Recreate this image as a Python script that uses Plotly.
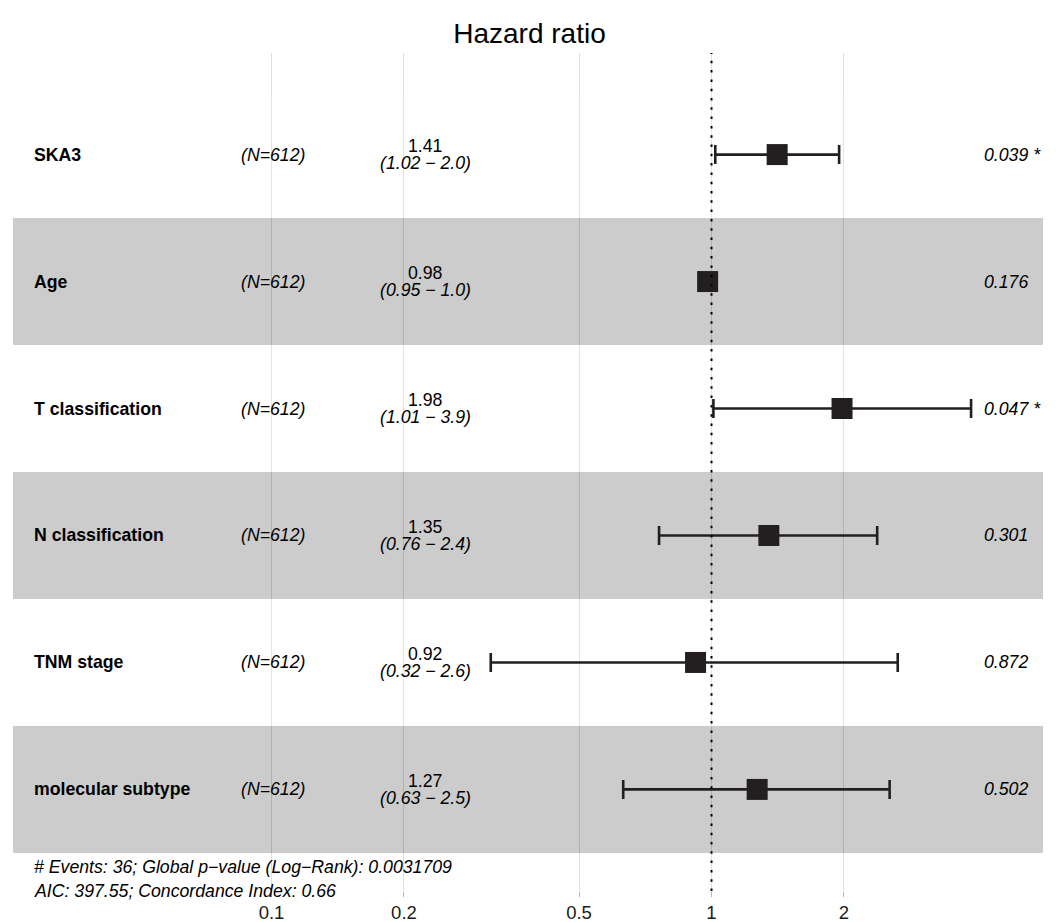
import plotly.graph_objects as go
import math

# ---------------- data ----------------
variables = ["SKA3", "Age", "T classification", "N classification", "TNM stage", "molecular subtype"]
n_labels = ["(N=612)", "(N=612)", "(N=612)", "(N=612)", "(N=612)", "(N=612)"]
hr = [1.41, 0.98, 1.98, 1.35, 0.92, 1.27]
ci_low = [1.02, 0.95, 1.01, 0.76, 0.315, 0.63]
ci_high = [1.95, 1.01, 3.89, 2.38, 2.65, 2.54]
hr_text = ["1.41", "0.98", "1.98", "1.35", "0.92", "1.27"]
ci_text = ["(1.02 \u2212 2.0)", "(0.95 \u2212 1.0)", "(1.01 \u2212 3.9)",
           "(0.76 \u2212 2.4)", "(0.32 \u2212 2.6)", "(0.63 \u2212 2.5)"]
p_text = ["0.039 *", "0.176", "0.047 *", "0.301", "0.872", "0.502"]
tick_vals = [0.1, 0.2, 0.5, 1, 2]
tick_text = ["0.1", "0.2", "0.5", "1", "2"]
footer_lines = ["# Events: 36; Global p\u2212value (Log\u2212Rank): 0.0031709",
                "AIC: 397.55; Concordance Index: 0.66"]
title_text = "Hazard ratio"

# ---------------- geometry helpers ----------------
OFF = 8                       # page body margin
W, H = 1059 - OFF, 922 - OFF  # figure size inside the page
PX_ONE = 711.5 - OFF          # pixel of HR = 1
PX_DEC = 440.0                # pixels per decade
TOP, BOT = 53 - OFF, 891 - OFF

def lx(px_ref):
    """log10 data coordinate for a reference-page pixel column"""
    return (px_ref - OFF - PX_ONE) / PX_DEC

def py(px_ref):
    """paper y for a reference-page pixel row"""
    return (BOT - (px_ref - OFF)) / (BOT - TOP)

x_range = [(0 - PX_ONE) / PX_DEC, (W - PX_ONE) / PX_DEC]
band_left = 10 ** lx(13)
band_right = 10 ** lx(1043)

n = len(variables)
ypos = [n - i for i in range(n)]   # top row = n

FONT = "Liberation Sans, Arial, Helvetica, sans-serif"
FS = 17.7
INK = "#231F20"

fig = go.Figure()

shapes = []
for i, y in enumerate(ypos):
    fill = "rgba(0,0,0,0.2)" if y % 2 == 1 else "rgba(255,255,255,0.2)"
    shapes.append(dict(type="rect", xref="x", yref="y", x0=band_left, x1=band_right,
                       y0=y - 0.5, y1=y + 0.5, fillcolor=fill, line=dict(width=0),
                       layer="between"))
shapes.append(dict(type="line", xref="x", yref="paper", x0=1, x1=1, y0=0, y1=1,
                   line=dict(color="#000000", width=2, dash="2.5px,6.8px"), layer="above"))

fig.add_trace(go.Scatter(
    x=hr, y=ypos, mode="markers",
    marker=dict(symbol="square", size=21, color=INK, line=dict(width=0)),
    error_x=dict(type="data", symmetric=False,
                 array=[h - hh for h, hh in zip(ci_high, hr)],
                 arrayminus=[hh - l for hh, l in zip(hr, ci_low)],
                 color=INK, thickness=2.6, width=9.5),
    hoverinfo="skip", showlegend=False,
))

ann = []
col_var = lx(32)
col_n = lx(239)
col_est = lx(425)
col_p = lx(982)
txtfont = dict(family=FONT, size=FS, color="#000000")
for i, y in enumerate(ypos):
    ann.append(dict(x=col_var, y=y, xref="x", yref="y", text="<b>%s</b>" % variables[i],
                    xanchor="left", yanchor="middle", showarrow=False, font=txtfont))
    ann.append(dict(x=col_n, y=y, xref="x", yref="y", text="<i>%s</i>" % n_labels[i],
                    xanchor="left", yanchor="middle", showarrow=False, font=txtfont))
    ann.append(dict(x=col_est, y=y, xref="x", yref="y", text=hr_text[i],
                    xanchor="center", yanchor="middle", yshift=8.5, showarrow=False, font=txtfont))
    ann.append(dict(x=col_est, y=y, xref="x", yref="y", text="<i>%s</i>" % ci_text[i],
                    xanchor="center", yanchor="middle", yshift=-8.5, showarrow=False, font=txtfont))
    ann.append(dict(x=col_p, y=y, xref="x", yref="y", text="<i>%s</i>" % p_text[i],
                    xanchor="left", yanchor="middle", showarrow=False, font=txtfont))

for line, fy in zip(footer_lines, [866.5, 890.5]):
    ann.append(dict(x=col_var, y=py(fy), xref="x", yref="paper", text="<i>%s</i>" % line,
                    xanchor="left", yanchor="middle", showarrow=False, font=txtfont))

fig.update_layout(
    width=W, height=H,
    margin=dict(l=0, r=0, t=TOP, b=H - BOT),
    paper_bgcolor="white", plot_bgcolor="white",
    title=dict(text=title_text, x=0.5 * 1059 / W - OFF / W, xanchor="center", xref="container",
               y=1 - (33 - OFF) / H, yanchor="middle", yref="container",
               font=dict(family=FONT, size=28, color="#000000")),
    shapes=shapes, annotations=ann,
    xaxis=dict(type="log", range=x_range, tickvals=tick_vals, ticktext=tick_text,
               showgrid=True, gridcolor="#DEDEDE", gridwidth=1.3,
               zeroline=False, showline=False,
               ticks="outside", ticklen=5, tickcolor="#B3B3B3", tickwidth=1.3,
               tickfont=dict(family=FONT, size=18.5, color="#1A1A1A")),
    yaxis=dict(range=[0.2, n + 0.8], showgrid=False, zeroline=False, showline=False,
               showticklabels=False, ticks=""),
)

fig.write_html("out.html")
